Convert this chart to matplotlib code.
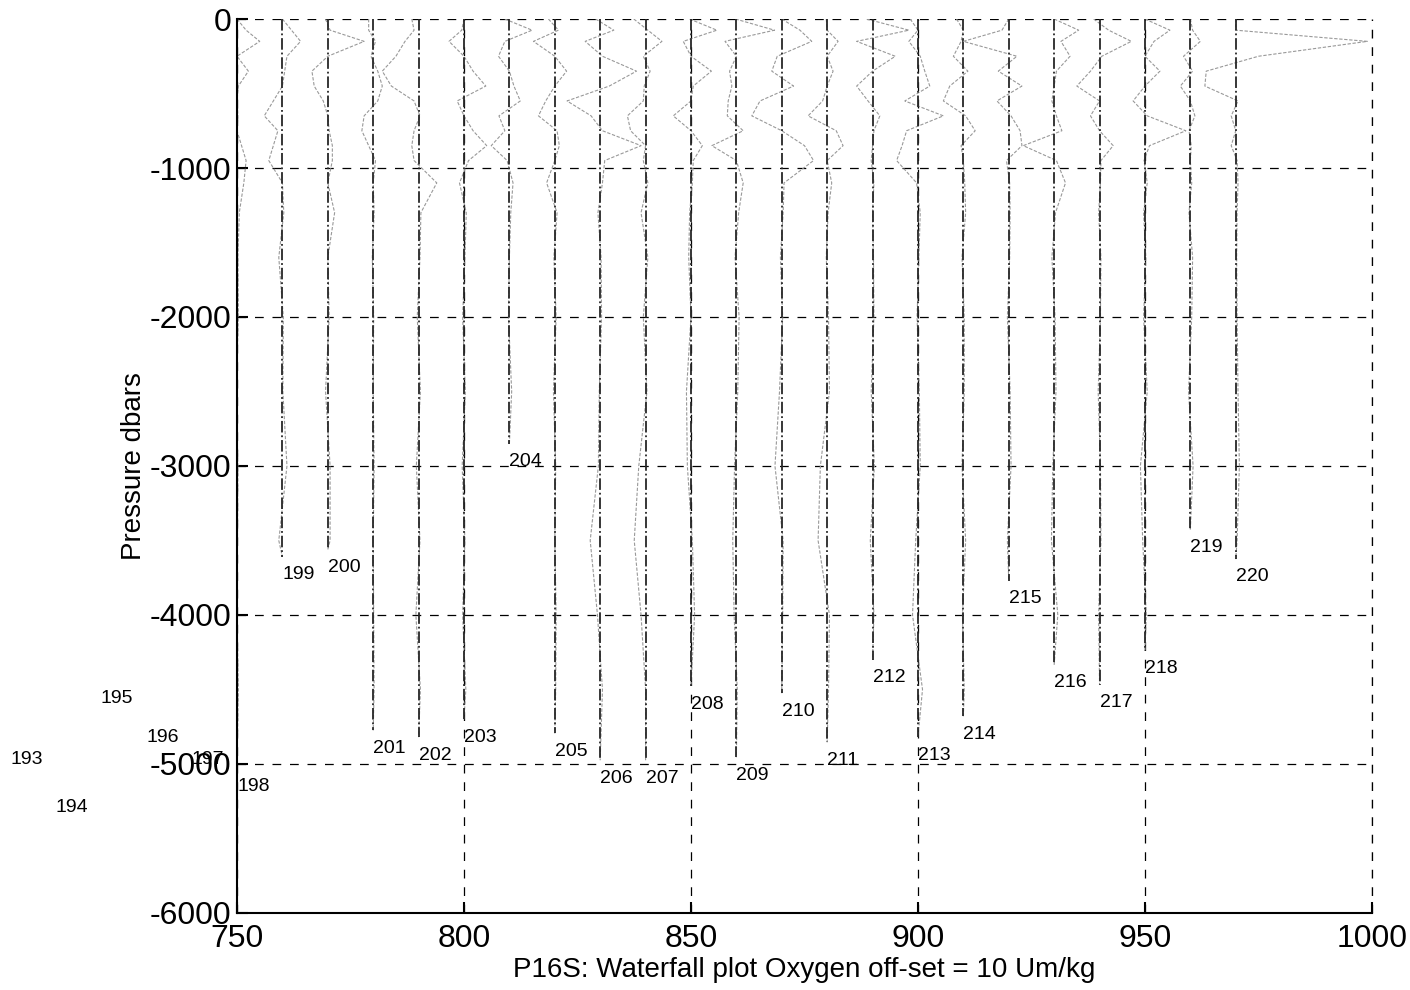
import numpy as np
import matplotlib
matplotlib.use("Agg")
import matplotlib.pyplot as plt

plt.rcParams["font.family"] = ["Liberation Sans", "DejaVu Sans"]
plt.rcParams["axes.unicode_minus"] = False

# station numbers, x position (offset 10 per station) and deepest pressure
stations = [193, 194, 195, 196, 197, 198, 199, 200, 201, 202, 203, 204, 205, 206,
            207, 208, 209, 210, 211, 212, 213, 214, 215, 216, 217, 218, 219, 220]
x_pos = [700, 710, 720, 730, 740, 750, 760, 770, 780, 790, 800, 810, 820, 830,
         840, 850, 860, 870, 880, 890, 900, 910, 920, 930, 940, 950, 960, 970]
p_bottom = [4850, 5175, 4440, 4705, 4850, 5030, 3610, 3560, 4775, 4820, 4700, 2850,
            4795, 4975, 4975, 4480, 4955, 4525, 4855, 4300, 4820, 4680, 3770, 4335,
            4470, 4240, 3430, 3625]

# pressure levels of the oxygen anomaly profiles
p_levels = [0, 75, 150, 250, 350, 450, 550, 650, 750, 850, 950, 1100, 1300, 1600,
            2000, 2500, 3000, 3500, 4000, 4500, 5000]

# oxygen anomaly (Um/kg) per station at p_levels
anomaly = [
    [0, 0.5, -1, 0, 0.5, 0, -0.5, 0, 0.3, 0, 0, 0.2, 0, 0, 0, 0, 0, 0, 0, 0, 0],          # 193
    [0, -0.5, 1, 0, -0.5, 0, 0.5, 0, -0.3, 0, 0, 0, 0.2, 0, 0, 0, 0, 0, 0, 0, 0],         # 194
    [0, 0.5, -1, 0.5, 0, 0, -0.5, 0, 0, 0.3, 0, 0, 0, 0, 0, 0, 0, 0, 0, 0, 0],            # 195
    [0, -0.5, 0.5, 0, 0.5, 0, 0, -0.5, 0, 0, 0.3, 0, 0, 0, 0, 0, 0, 0, 0, 0, 0],          # 196
    [0, 0.5, -1, 0, 0, 0.5, 0, 0, -0.5, 0, 0, 0, 0, 0, 0, 0, 0, 0, 0, 0, 0],              # 197
    [0, 2, 5, 0, 2.5, 0.3, 0, 0.2, 0, 1, 2, 1.5, 0.5, 0.2, 0.3, -0.2, 0.2, 0.1, 0, 0.3, 0],  # 198
    [0, 2, 4, 1, 0.5, 0, -2, -4, -1, -2, -3, 0, 0.3, -0.8, 0.2, 0.1, 1.0, -0.8, 0, 0, 0],    # 199
    [-0.5, 0.5, 8, 0, -3.5, -3, -1, 0, 0.3, 1, 1, 0, 1.5, 0, 0.3, -0.5, 0.5, 0.5, 0, 0, 0],  # 200
    [-1, -1, 0.5, -0.5, 1, 2, 1, -2, -2.5, -1, 0.5, 0, 0.2, -0.2, 0.1, 0, 0.2, 0, 0.1, 0.2, 0],  # 201
    [-1.5, -1, -3, -5, -8, -6, -1, 0.3, -1, -1.5, -1, 4, 0.5, 0.3, -0.3, 0.4, -0.5, 0.3, -0.6, 0.4, 0],  # 202
    [0, -0.5, -3.3, 0, 2, 4.8, -1.5, 0, 2, 5, 1, -1, 0.5, 0.2, -0.3, 0.3, -0.4, 0.2, -0.3, 0.4, 0],  # 203
    [-1, 5, -1, -2.4, 0, 1, 2.4, -2.3, -1, -4, -0.5, 0.8, 0.3, 0, -0.2, 0.5, 0.3, 0, 0, 0, 0],  # 204
    [-1.4, 0.8, -4.7, 0, 2.6, 0, -2, -3.6, 0.5, 1, 0, -1.8, 0.5, -0.2, 0.3, -0.3, 0.2, 0, 0.3, 0.2, 0],  # 205
    [-1, 3, -3.3, 0.5, 8, 2, -7.3, -2, 0.5, 9, 1, 0.5, -0.5, 0.2, 0.3, -0.2, -0.4, -2.2, -0.6, 0.5, 1.5],  # 206
    [-2.6, 0.5, 3.6, -0.5, 1, -0.3, -0.5, -4, -3.3, 0, -0.5, 0.5, -1, 0.5, -0.5, 0.3, -1.5, -2.5, -1, 0, 0.3],  # 207
    [-0.3, 5.7, -1.7, 0, 4.5, 0.5, 0, -3.9, 0, 2.5, 0.5, 0.3, -0.3, -0.5, 0, -1, -0.8, 0.3, 0.8, 0, 0],  # 208
    [-0.2, 8.4, -2.5, 0, -1.5, -1, -1.8, -2, 1.5, -5.4, 0, 1.5, 0.5, -0.3, 0.6, 0.3, -0.4, -0.8, -0.5, 0.2, 0],  # 209
    [0, 4, 6.6, -1, -2.2, 2.6, -4.8, -6.6, 0, 5, 7, 0.5, 0.3, -0.3, 0.2, -0.5, -1.5, 0.3, 0.2, 0, 0],  # 210
    [-0.2, 0, 2.4, 0, 1.3, 0, -1, -4.2, 2, 3.5, 0, 1, 0.2, -0.2, 0.3, 0.5, -1.5, -2, 0.5, 0.3, 0],  # 211
    [-1.3, 8, -3.5, 5, 0, -3.5, -1, 1.6, 0.3, 0, -0.3, 0.3, 0, 0.2, 0.3, -0.3, 0.4, -0.5, 0.3, 0, 0],  # 212
    [-1.7, 0, -2, 0.5, 1.5, 2.6, -2.9, 5.6, -2.5, -3.5, -4.7, -0.3, 0.5, 0.2, -0.2, 0.3, 0.5, -0.5, -1.2, 1, 0],  # 213
    [-1.5, 0, -0.5, -2.2, 1, -3, -4.4, 0.5, 2.6, -0.5, 0, 0.3, 0.5, -0.3, 0.2, 0.2, -0.3, 0.5, -0.2, 0.2, 0],  # 214
    [0, -1.5, -10, 1.8, -2.3, 2.9, -2.6, 0.5, 2.5, 2.9, -0.5, 0.2, 0.3, 0.2, -0.3, 0.3, 0.5, -0.3, 0, 0, 0],  # 215
    [0, 5.4, 1.5, 3.5, 0.5, 0, -0.5, 0.5, 1.7, -6.8, 0.5, 2.5, 0.3, -0.5, 0.2, 0.4, -0.3, -0.6, 0.8, 0, 0],  # 216
    [-1.3, 2, 7, 0.5, -2, -5, 0, -2, 0, 3, 0.3, 0.2, -0.2, 0.3, 0.2, -0.3, 0.2, 0.3, -0.2, 0, 0],  # 217
    [0, 5.5, 2, 0, 3.3, 0, -2.6, 0.5, 9, 1, -0.2, 0.5, -0.3, 0.2, -0.3, 0.5, -1.0, -0.5, 0.3, 0, 0],  # 218
    [0, 0.5, 2.2, -1.5, 0.5, -2.2, 0, 1, -0.3, 0.2, 0, 0.3, -0.3, 0.5, 0.3, -0.4, 0.6, 0.2, 0, 0, 0],  # 219
    [0, 0, 29, 5, -6.5, -6.8, 0.5, -1, 0, -1, 0.3, 0.5, 0.3, 0.2, 0.3, 0.5, 0.8, 0.3, 0, 0, 0],  # 220
]

fig = plt.figure(figsize=(14.1, 9.9), dpi=100)
ax = fig.add_axes([0.1681, 0.0778, 0.8049, 0.903])

p_lev = np.asarray(p_levels, dtype=float)
for st, x0, pb, dev in zip(stations, x_pos, p_bottom, anomaly):
    dev = np.asarray(dev, dtype=float)
    keep = p_lev < pb
    pp = np.append(p_lev[keep], pb)
    dd = np.append(dev[keep], 0.0)
    # oxygen anomaly profile
    ax.plot(x0 + dd, -pp, color="0.6", lw=0.8, ls=(0, (3, 1.5)))
    # station reference line
    ax.plot([x0, x0], [0, -pb], color="0.15", lw=1.3, ls="-.")
    ax.text(x0, -(pb + 120), str(st), ha="left", va="center", fontsize=14,
            clip_on=False)

ax.set_xlim(750, 1000)
ax.set_ylim(-6000, 0)
ax.set_xticks(np.arange(750, 1001, 50))
ax.set_yticks(np.arange(-6000, 1, 1000))
ax.grid(True, color="k", ls=(0, (7, 7)), lw=0.9)
# grid line on the right edge (no box there)
ax.axvline(1000, color="k", ls=(0, (7, 7)), lw=0.9, clip_on=False)
ax.spines["top"].set_visible(False)
ax.spines["right"].set_visible(False)
ax.spines["left"].set_linewidth(1.5)
ax.spines["bottom"].set_linewidth(1.5)
ax.tick_params(direction="in", length=8, width=1.5, labelsize=23)
ax.tick_params(axis="x", pad=8)
ax.tick_params(axis="y", pad=4)
ax.set_ylabel("Pressure dbars", fontsize=20, labelpad=2)
ax.set_xlabel("P16S: Waterfall plot Oxygen off-set = 10 Um/kg", fontsize=20, labelpad=2)

fig.savefig("out.png", dpi=100)
